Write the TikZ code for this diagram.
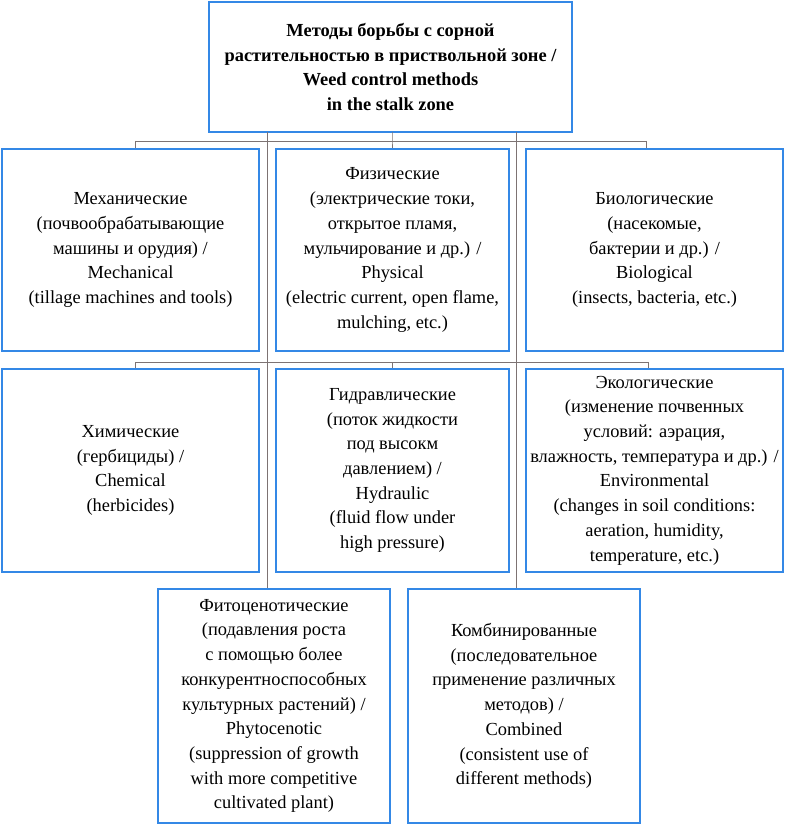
\documentclass[tikz,border=0pt]{standalone}
\usepackage{fontspec}
\setmainfont{Liberation Serif}
\newfontfamily\boxserif{Liberation Serif}
\definecolor{boxblue}{RGB}{52,136,230}
\definecolor{linkgray}{RGB}{125,115,115}
\tikzset{
  box/.style={draw=boxblue, line width=1.8pt, fill=white, inner sep=0pt, align=center,
    font=\boxserif\fontsize{18.4}{24.7}\selectfont},
  link/.style={draw=linkgray, line width=0.9pt},
}
\begin{document}
\begin{tikzpicture}[x=1pt,y=-1pt]
\useasboundingbox (0,0) rectangle (785,826);
\coordinate (ja) at (135,141);
\coordinate (jb) at (392,141);
\coordinate (jc) at (646,141);
\coordinate (ka) at (135,362);
\coordinate (kb) at (392,362);
\coordinate (kc) at (648,362);
\coordinate (va) at (267,132);
\coordinate (vb) at (516,132);
\coordinate (vc) at (392,132);

\node[box, minimum width=363pt, minimum height=130pt, font=\boxserif\bfseries\fontsize{18.4}{24.7}\selectfont] (top) at (390.5,67)
  {Методы борьбы с сорной\\растительностью в приствольной зоне /\\Weed control methods\\in the stalk zone};

\node[box, minimum width=257pt, minimum height=202pt] (mech) at (130.5,250)
  {Механические\\(почвообрабатывающие\\машины и орудия) /\\Mechanical\\(tillage machines and tools)};
\node[box, minimum width=233pt, minimum height=202pt] (phys) at (392.5,250)
  {Физические\\(электрические токи,\\открытое пламя,\\мульчирование и др.) /\\Physical\\(electric current, open flame,\\mulching, etc.)};
\node[box, minimum width=257pt, minimum height=202pt] (bio) at (654.5,250)
  {Биологические\\(насекомые,\\бактерии и др.) /\\Biological\\(insects, bacteria, etc.)};

\node[box, minimum width=257pt, minimum height=203pt] (chem) at (130.5,470.5)
  {Химические\\(гербициды) /\\Chemical\\(herbicides)};
\node[box, minimum width=233pt, minimum height=203pt] (hydr) at (392.5,470.5)
  {Гидравлические\\(поток жидкости\\под высокм\\давлением) /\\Hydraulic\\(fluid flow under\\high pressure)};
\node[box, minimum width=257pt, minimum height=203pt] (eco) at (654.5,470.5)
  {Экологические\\(изменение почвенных\\условий: аэрация,\\влажность, температура и др.) /\\Environmental\\(changes in soil conditions:\\aeration, humidity,\\temperature, etc.)};

\node[box, minimum width=232pt, minimum height=234pt] (phyto) at (274,706)
  {Фитоценотические\\(подавления роста\\с помощью более\\конкурентноспособных\\культурных растений) /\\Phytocenotic\\(suppression of growth\\with more competitive\\cultivated plant)};
\node[box, minimum width=232pt, minimum height=234pt] (comb) at (524,706)
  {Комбинированные\\(последовательное\\применение различных\\методов) /\\Combined\\(consistent use of\\different methods)};

\draw[link] (ja) -- (jc);
\draw[link] (ja) -- (ja |- mech.north);
\draw[link] (jc) -- (jc |- bio.north);
\draw[link] (vc) -- (jb) -- (jb |- phys.north);
\draw[link] (va) -- (va |- phyto.north);
\draw[link] (vb) -- (vb |- comb.north);
\draw[link] (ka) -- (kc);
\draw[link] (ka) -- (ka |- chem.north);
\draw[link] (kc) -- (kc |- eco.north);
\draw[link] (kb) -- (kb |- hydr.north);
\end{tikzpicture}
\end{document}
